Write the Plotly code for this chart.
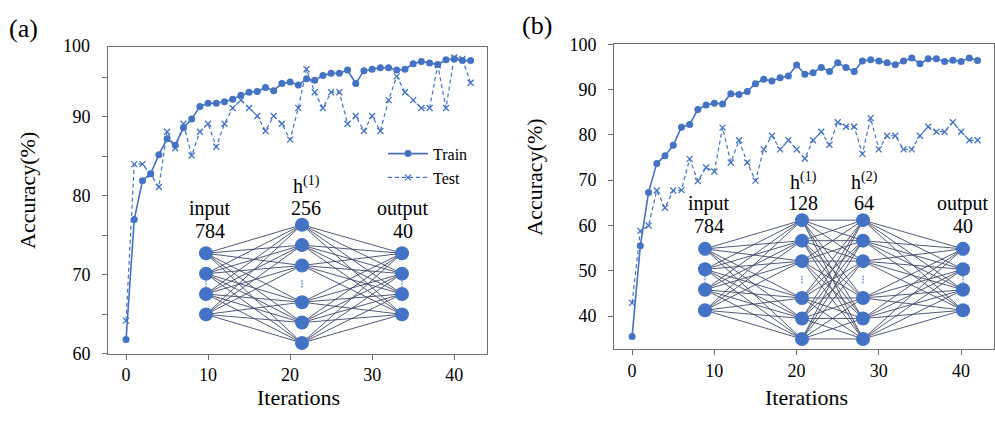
import plotly.graph_objects as go

# ---------------- data ----------------
iterations = list(range(43))

train_a = [61.8, 77.0, 81.9, 82.8, 85.2, 87.2, 86.4, 88.6, 89.7, 91.3,
           91.7, 91.7, 91.9, 92.2, 92.7, 93.1, 93.2, 93.7, 93.3, 94.2,
           94.4, 94.0, 94.8, 94.6, 95.2, 95.5, 95.5, 95.9, 94.2, 95.8,
           96.0, 96.2, 96.2, 95.9, 96.0, 96.7, 97.0, 96.8, 96.6, 97.2,
           97.3, 97.1, 97.1]
test_a = [64.2, 84.0, 84.0, 82.7, 81.1, 88.1, 86.0, 89.1, 85.1, 88.1,
          89.1, 86.2, 89.1, 91.1, 92.1, 91.1, 90.1, 88.2, 90.1, 89.1,
          87.1, 91.1, 96.0, 93.1, 91.1, 93.1, 93.1, 89.1, 90.1, 88.2,
          90.1, 88.2, 92.1, 95.1, 93.1, 92.1, 91.1, 91.1, 96.5, 91.1,
          97.5, 97.3, 94.3]

train_b = [35.5, 55.5, 67.3, 73.7, 75.4, 77.7, 81.7, 82.3, 85.6, 86.6,
           87.0, 86.8, 89.1, 88.9, 89.6, 91.3, 92.3, 91.9, 92.6, 93.0,
           95.4, 93.4, 93.7, 94.9, 94.0, 95.9, 94.9, 94.0, 96.3, 96.6,
           96.3, 95.9, 95.5, 96.3, 97.0, 95.7, 96.8, 96.8, 96.2, 96.5,
           96.2, 97.0, 96.4]
test_b = [42.9, 58.8, 60.0, 67.7, 63.9, 67.7, 67.8, 74.7, 69.8, 72.8,
          71.9, 81.6, 73.9, 78.8, 73.9, 69.9, 76.8, 79.8, 76.8, 78.8,
          76.8, 74.8, 78.8, 80.7, 77.8, 82.8, 81.8, 81.8, 75.8, 83.7,
          76.8, 79.8, 79.8, 76.8, 76.8, 79.8, 81.8, 80.7, 80.7, 82.8,
          80.7, 78.8, 78.8]

x_ticks = [0, 10, 20, 30, 40]
y_ticks_a = [60, 70, 80, 90]
y_minor_a = [65, 75, 85, 95]
y_ticks_b = [40, 50, 60, 70, 80, 90, 100]

# network layer descriptions (label, size)
net_a = [("input", "784"), ("h<sup>(1)</sup>", "256"), ("output", "40")]
net_a_nodes = [4, 6, 4]
net_b = [("input", "784"), ("h<sup>(1)</sup>", "128"), ("h<sup>(2)</sup>", "64"), ("output", "40")]
net_b_nodes = [4, 6, 6, 4]

# ---------------- style ----------------
W, H = 995, 421
BLUE = "#4472C4"
NET = "#3E4A68"
AX = "#6e6e6e"
FONT = "Liberation Serif"


def fx(p):
    return p / W


def fy(p):
    return 1 - p / H


fig = go.Figure()

train_style = dict(mode="lines+markers", line=dict(color=BLUE, width=1.6),
                   marker=dict(symbol="circle", size=7, color=BLUE))
test_style = dict(mode="lines+markers", line=dict(color=BLUE, width=1.2, dash="4px,3px"),
                  marker=dict(symbol="x-thin", size=6, color=BLUE, line=dict(color=BLUE, width=1.3)))

fig.add_trace(go.Scatter(x=iterations, y=train_a, name="Train", xaxis="x", yaxis="y", **train_style))
fig.add_trace(go.Scatter(x=iterations, y=test_a, name="Test", xaxis="x", yaxis="y", **test_style))
fig.add_trace(go.Scatter(x=iterations, y=train_b, name="Train", xaxis="x2", yaxis="y2",
                         showlegend=False, **train_style))
fig.add_trace(go.Scatter(x=iterations, y=test_b, name="Test", xaxis="x2", yaxis="y2",
                         showlegend=False, **test_style))


# ---------------- network diagrams (overlay axis in pixel units) ----------------
def node_offsets(n):
    if n == 4:
        return [-1.5, -0.5, 0.5, 1.5]
    return [-2.9, -1.9, -0.9, 0.9, 1.9, 2.9]


def draw_net(xs, counts, cy, sp, labels, label_y1, label_dx):
    layers = []
    for x, n in zip(xs, counts):
        layers.append([(x, cy + o * sp) for o in node_offsets(n)])
    lx, ly = [], []
    for l1, l2 in zip(layers[:-1], layers[1:]):
        for (x1, y1) in l1:
            for (x2, y2) in l2:
                lx += [x1, x2, None]
                ly += [y1, y2, None]
    fig.add_trace(go.Scatter(x=lx, y=ly, mode="lines", line=dict(color=NET, width=0.9),
                             xaxis="x3", yaxis="y3", showlegend=False, hoverinfo="skip"))
    nx = [p[0] for l in layers for p in l]
    ny = [p[1] for l in layers for p in l]
    fig.add_trace(go.Scatter(x=nx, y=ny, mode="markers",
                             marker=dict(size=14, color=BLUE, line=dict(width=0)),
                             xaxis="x3", yaxis="y3", showlegend=False, hoverinfo="skip"))
    dx, dy = [], []
    for x in xs:
        for d in (-3, 0, 3):
            dx.append(x)
            dy.append(cy + d)
    fig.add_trace(go.Scatter(x=dx, y=dy, mode="markers",
                             marker=dict(size=2, color="#7F9FD8"),
                             xaxis="x3", yaxis="y3", showlegend=False, hoverinfo="skip"))
    for i, (x, (name, size)) in enumerate(zip(xs, labels)):
        y1 = label_y1[i]
        fig.add_annotation(x=x + label_dx[i], y=y1, xref="x3", yref="y3", text=name,
                           xanchor="center", yanchor="middle",
                           showarrow=False, font=dict(family=FONT, size=20, color="black"))
        fig.add_annotation(x=x + label_dx[i], y=y1 + 24, xref="x3", yref="y3", text=size,
                           xanchor="center", yanchor="middle",
                           showarrow=False, font=dict(family=FONT, size=20, color="black"))


draw_net([206, 302, 402], net_a_nodes, 287.5, 21.4, net_a,
         [208, 184, 208], [4, 4, 1])
draw_net([705, 802, 863, 963], net_b_nodes, 283.0, 21.5, net_b,
         [203, 179, 179, 203], [4, 1, 1, 0])

# ---------------- layout ----------------
xa = dict(range=[-2.2, 44.0], tickvals=x_ticks, ticks="outside", ticklen=5, tickcolor=AX,
          showline=True, linecolor=AX, linewidth=1, mirror=True, showgrid=False, zeroline=False,
          tickfont=dict(family=FONT, size=18, color="black"))
ya = dict(ticks="outside", ticklen=5, tickcolor=AX, showline=True, linecolor=AX, linewidth=1,
          mirror=True, showgrid=False, zeroline=False, ticklabelstandoff=8,
          tickfont=dict(family=FONT, size=18, color="black"))

fig.update_layout(
    width=W, height=H, margin=dict(l=0, r=0, t=0, b=0),
    paper_bgcolor="white", plot_bgcolor="rgba(0,0,0,0)",
    xaxis=dict(domain=[fx(108), fx(487)], anchor="y", **xa),
    yaxis=dict(domain=[fy(361), fy(39)], anchor="x", range=[60, 98.8], tickvals=y_ticks_a,
               minor=dict(tickvals=y_minor_a, ticks="outside", ticklen=5, tickcolor=AX, showgrid=False),
               **ya),
    xaxis2=dict(domain=[fx(614), fx(994)], anchor="y2", **xa),
    yaxis2=dict(domain=[fy(356), fy(36)], anchor="x2", range=[32.7, 100], tickvals=y_ticks_b, **ya),
    xaxis3=dict(domain=[0, 1], range=[0, W], visible=False, anchor="y3", fixedrange=True),
    yaxis3=dict(domain=[0, 1], range=[H, 0], visible=False, anchor="x3", fixedrange=True),
    legend=dict(x=fx(383), y=fy(133), xanchor="left", yanchor="top", bgcolor="rgba(0,0,0,0)",
                font=dict(family=FONT, size=16, color="black"), tracegroupgap=0, itemwidth=40),
    font=dict(family=FONT, color="black"),
)

ann = [
    dict(text="(a)", x=23, y=19, size=26),
    dict(text="(b)", x=537, y=16, size=26),
    dict(text="Iterations", x=298, y=407, size=22),
    dict(text="Iterations", x=806, y=407, size=22),
]
for a in ann:
    fig.add_annotation(x=fx(a["x"]), y=fy(a["y"]), xref="paper", yref="paper", text=a["text"],
                       xanchor="center", yanchor="middle",
                       showarrow=False, font=dict(family=FONT, size=a["size"], color="black"))
for x, y in [(28, 190), (535, 176)]:
    fig.add_annotation(x=fx(x), y=fy(y), xref="paper", yref="paper", text="Accuracy(%)",
                       xanchor="center", yanchor="middle",
                       textangle=-90, showarrow=False, font=dict(family=FONT, size=22, color="black"))
# top label of panel (a) sits at the frame top
fig.add_annotation(x=fx(92), y=fy(38), xref="paper", yref="paper", text="100",
                   xanchor="right", yanchor="middle",
                   showarrow=False, font=dict(family=FONT, size=18, color="black"))

# remove the default page margin so the figure starts at the window's corner
fig.write_html("out.html", config={"displayModeBar": False},
               post_script="document.body.style.margin='0';document.body.style.overflow='hidden';")
